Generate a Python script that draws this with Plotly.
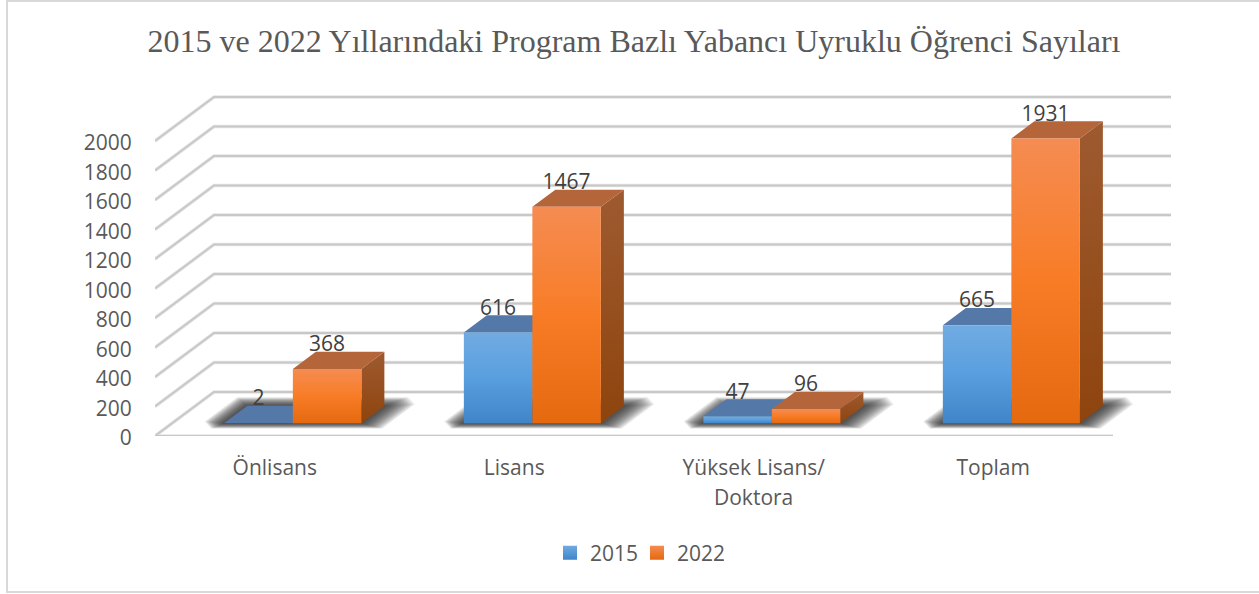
import plotly.graph_objects as go

categories = ["Önlisans", "Lisans", "Yüksek Lisans/", "Toplam"]
second_line = {2: "Doktora"}
values_2015 = [2, 616, 47, 665]
values_2022 = [368, 1467, 96, 1931]
y_ticks = [0, 200, 400, 600, 800, 1000, 1200, 1400, 1600, 1800, 2000]
title_text = "2015 ve 2022 Yıllarındaki Program Bazlı Yabancı Uyruklu Öğrenci Sayıları"

W, H = 1259, 594
PX_X = 239.5          # pixels per category band
PX_Y = 0.1475         # pixels per value unit
LEFT, BOTTOM_Y, TOP_Y = 155, 436, 40
RIGHT = 1171
X_MAX = (RIGHT - LEFT) / PX_X
Y_MAX = (BOTTOM_Y - TOP_Y) / PX_Y
DEPTH_X = 59 / PX_X   # full wall depth in axis units
DEPTH_Y = 44 / PX_Y
BAR_W = 68.5 / PX_X
BAR_SHIFT = 1 / PX_X
D0, D1 = 0.29, 0.68   # bar front and back planes

ORANGE = dict(front=[[0, "#E4690F"], [0.5, "#F87C26"], [1, "#F58C52"]],
              side=[[0, "#8E440D"], [1, "#9E5A30"]], top="#B4653A")
BLUE = dict(front=[[0, "#3F85C8"], [0.5, "#599FDF"], [1, "#71ABE2"]],
            side=[[0, "#2C5D8C"], [1, "#44709E"]], top="#5479A8")
GRID = "#C8C8C8"
TEXT = "#595959"
LABEL = "#404040"
FONT = "Open Sans"


def pt(x, v, d):
    return x + d * DEPTH_X, v + d * DEPTH_Y


def poly(points, **kw):
    xs, ys = zip(*points)
    return go.Scatter(x=list(xs) + [xs[0]], y=list(ys) + [ys[0]], mode="lines",
                      line=dict(width=0), fill="toself", showlegend=False,
                      hoverinfo="skip", **kw)


fig = go.Figure()

# walls and floor grid
for v in y_ticks:
    xs, ys = [], []
    if v == 0:
        xs += [4, 0]
        ys += [0, 0]
    else:
        xs += [0]
        ys += [v]
    a = pt(0, v, 1)
    b = pt(X_MAX - DEPTH_X, v, 1)
    xs += [a[0], b[0]]
    ys += [a[1], b[1]]
    fig.add_trace(go.Scatter(x=xs, y=ys, mode="lines", line=dict(color="#E6E6E6", width=3.5),
                             showlegend=False, hoverinfo="skip"))
    fig.add_trace(go.Scatter(x=xs, y=ys, mode="lines", line=dict(color=GRID, width=2),
                             showlegend=False, hoverinfo="skip"))

# soft floor shadows
LAYERS = 16
for i in range(len(categories)):
    c = i + 0.5 + BAR_SHIFT
    for k in range(LAYERS, 0, -1):
        e = k / LAYERS
        x0, x1 = c - BAR_W - e * 22 / PX_X, c + BAR_W + e * 28 / PX_X
        d0, d1 = D0 - e * 0.12, D1 + e * 0.20
        cx, cd = e * 16 / PX_X, e * 0.16
        fig.add_trace(poly([pt(x0 + cx, 0, d0), pt(x1, 0, d0), pt(x1, 0, d1 - cd),
                            pt(x1 - cx, 0, d1), pt(x0, 0, d1), pt(x0, 0, d0 + cd)],
                           fillcolor="rgba(30,30,30,0.085)"))


def box(x0, x1, v, style):
    fig.add_trace(poly([pt(x1, 0, D0), pt(x1, 0, D1), pt(x1, v, D1), pt(x1, v, D0)],
                       fillgradient=dict(type="vertical", colorscale=style["side"])))
    fig.add_trace(poly([pt(x0, v, D0), pt(x1, v, D0), pt(x1, v, D1), pt(x0, v, D1)],
                       fillcolor=style["top"]))
    fig.add_trace(poly([pt(x0, 0, D0), pt(x1, 0, D0), pt(x1, v, D0), pt(x0, v, D0)],
                       fillgradient=dict(type="vertical", colorscale=style["front"])))


for i in range(len(categories)):
    c = i + 0.5 + BAR_SHIFT
    box(c - BAR_W, c, values_2015[i], BLUE)
    box(c, c + BAR_W, values_2022[i], ORANGE)

# data labels
LABEL_LIFT = 23 / PX_Y
for vals, off in ((values_2015, -BAR_W / 2), (values_2022, BAR_W / 2)):
    points = [pt(i + 0.5 + BAR_SHIFT + off, v, D0) for i, v in enumerate(vals)]
    fig.add_trace(go.Scatter(x=[p[0] for p in points], y=[p[1] + LABEL_LIFT for p in points],
                             mode="text", text=[str(v) for v in vals],
                             textposition="middle center",
                             textfont=dict(family=FONT, size=21, color=LABEL),
                             cliponaxis=False, showlegend=False, hoverinfo="skip"))

# legend
for name, style in (("2015", BLUE), ("2022", ORANGE)):
    fig.add_trace(go.Scatter(x=[None], y=[None], mode="markers", name=name,
                             marker=dict(symbol="square", size=14, color=style["front"][2][1],
                                         gradient=dict(type="vertical", color=style["front"][0][1]))))

fig.update_layout(
    width=W, height=H, paper_bgcolor="white", plot_bgcolor="white",
    margin=dict(l=LEFT, r=W - RIGHT, t=TOP_Y, b=H - BOTTOM_Y, autoexpand=False),
    font=dict(family=FONT, size=21, color=TEXT),
    title=dict(text=title_text, x=634 / W, xref="container", xanchor="center",
               y=1 - 41 / H, yref="container", yanchor="middle",
               font=dict(family="Liberation Serif", size=32, color=TEXT)),
    xaxis=dict(range=[0, X_MAX], tickmode="array", tickvals=[i + 0.5 for i in range(4)],
               ticktext=categories, showgrid=False, zeroline=False, showline=False,
               ticks="outside", ticklen=13, tickcolor="rgba(0,0,0,0)", tickangle=0,
               tickfont=dict(family=FONT, size=21, color=TEXT)),
    yaxis=dict(range=[0, Y_MAX], tickmode="array", tickvals=y_ticks,
               showgrid=False, zeroline=False, showline=False,
               ticks="outside", ticklen=18, tickcolor="rgba(0,0,0,0)",
               ticklabelshift=2,
               tickfont=dict(family=FONT, size=21, color=TEXT)),
    legend=dict(orientation="h", x=(637 - LEFT) / (RIGHT - LEFT), xanchor="center",
                y=(BOTTOM_Y - 553) / (BOTTOM_Y - TOP_Y), yanchor="middle",
                font=dict(family=FONT, size=21, color=TEXT), bgcolor="rgba(0,0,0,0)",
                entrywidth=42, entrywidthmode="pixels",
                itemclick=False, itemdoubleclick=False),
    shapes=[dict(type="rect", xref="paper", yref="paper",
                 x0=(7 - LEFT) / (RIGHT - LEFT), x1=(1266 - LEFT) / (RIGHT - LEFT),
                 y0=(BOTTOM_Y - 592) / (BOTTOM_Y - TOP_Y), y1=(BOTTOM_Y - 1) / (BOTTOM_Y - TOP_Y),
                 line=dict(color="#D9D9D9", width=2), layer="below")],
    annotations=[dict(x=i + 0.5, xref="x", y=0, yref="y", yshift=-61, text=t, showarrow=False,
                      font=dict(family=FONT, size=21, color=TEXT), yanchor="middle")
                 for i, t in second_line.items()],
)

fig.write_html("out.html", config=dict(displayModeBar=False),
               post_script="document.body.style.margin='0';")
